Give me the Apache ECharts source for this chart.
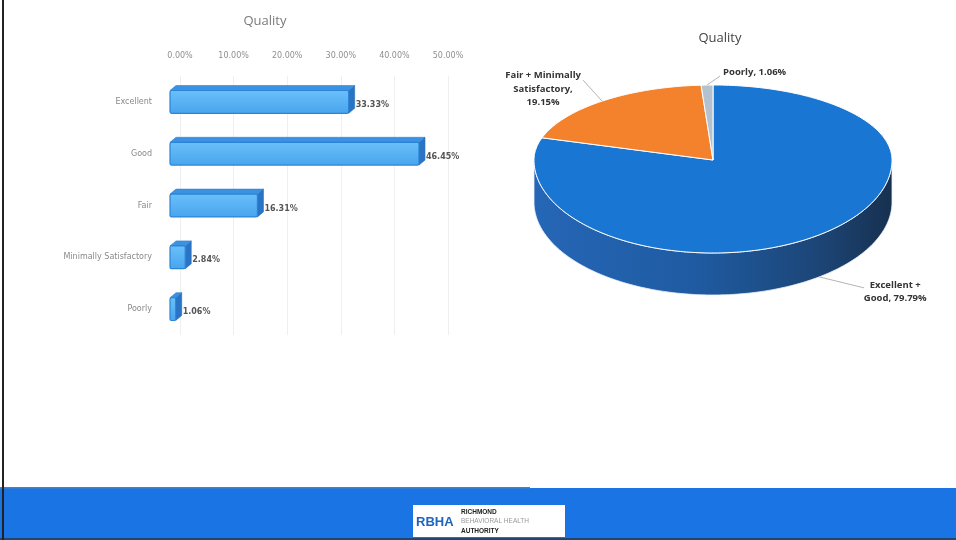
<!DOCTYPE html>
<html>
<head>
<meta charset="utf-8">
<script src="https://cdn.jsdelivr.net/npm/echarts@6/dist/echarts.min.js"></script>
<style>html,body{margin:0;padding:0;background:#fff}#c{width:956px;height:540px}</style>
</head>
<body>
<div id="c"></div>
<script>
// ---- data ----
const barCategories = ['Excellent', 'Good', 'Fair', 'Minimally Satisfactory', 'Poorly'];
const barValues = [33.33, 46.45, 16.31, 2.84, 1.06];
const xTicks = [0, 10, 20, 30, 40, 50];
const pieCategories = ['Excellent + Good', 'Fair + Minimally Satisfactory', 'Poorly'];
const pieValues = [79.79, 19.15, 1.06];
const pieLabelTexts = ['Excellent +\nGood, 79.79%', 'Fair + Minimally\nSatisfactory,\n19.15%', 'Poorly, 1.06%'];

// ---- layout / style ----
const PIE = {cx: 713, cy: 160, rx: 179, ryT: 75, ryB: 93, depth: 42};
const pieColors = ['#1a76d3', '#f4812b', '#b4c2d0'];
const pieLabelLayout = [
  {line: [45, 11], text: [31, 4], align: 'center'},
  {line: [-19, -21], text: [-40, 9], align: 'center'},
  {line: [13, -9], text: [3, -4], align: 'left'}
];
const BAR3D = {shift: -10, dx: 6, dy: -5, ratio: 0.44};

const total = pieValues.reduce((a, b) => a + b, 0);
const cum = [0];
pieValues.forEach((v, i) => cum.push(cum[i] + v));

function P(th, drop) {
  const r = th * Math.PI / 180;
  const s = Math.sin(r);
  return [PIE.cx + PIE.rx * Math.cos(r), PIE.cy - (s > 0 ? PIE.ryT : PIE.ryB) * s + (drop || 0)];
}

const chart = echarts.init(document.getElementById('c'), null, {renderer: 'canvas'});

const option = {
  backgroundColor: '#fff',
  animation: false,
  title: [
    {text: 'Quality', left: 260, top: 10, textAlign: 'center',
     textStyle: {fontFamily: 'Open Sans', fontSize: 13, fontWeight: 'normal', color: '#7a7a7a'}},
    {text: 'Quality', left: 715, top: 27, textAlign: 'center',
     textStyle: {fontFamily: 'Open Sans', fontSize: 13, fontWeight: 'normal', color: '#444'}}
  ],
  grid: {left: 180, right: 508, top: 76, bottom: 205},
  xAxis: {
    type: 'value', position: 'top', min: 0, max: 50, interval: 10,
    axisLine: {show: false}, axisTick: {show: false},
    splitLine: {lineStyle: {color: '#efefef'}},
    axisLabel: {fontFamily: 'DejaVu Sans', fontSize: 8, color: '#8f8f8f', margin: 16,
      formatter: v => xTicks.indexOf(v) >= 0 ? v.toFixed(2) + '%' : ''}
  },
  yAxis: {
    type: 'category', inverse: true, data: barCategories,
    axisLine: {show: false}, axisTick: {show: false},
    axisLabel: {fontFamily: 'DejaVu Sans', fontSize: 8, color: '#8a8a8a', margin: 28}
  },
  series: [
    {
      type: 'custom', coordinateSystem: 'cartesian2d',
      data: barValues.map((v, i) => [v, i]),
      encode: {x: 0, y: 1},
      renderItem: function (params, api) {
        const v = api.value(0), ci = api.value(1);
        const end = api.coord([v, ci]);
        const start = api.coord([0, ci]);
        const band = api.size([0, 1])[1];
        const h = band * BAR3D.ratio;
        const xL = start[0] + BAR3D.shift, xR = end[0] + BAR3D.shift;
        const yT = end[1] - h / 2, yB = end[1] + h / 2;
        const dx = BAR3D.dx, dy = BAR3D.dy;
        return {
          type: 'group',
          children: [
            {type: 'polygon', shape: {points: [[xR, yT], [xR + dx, yT + dy], [xR + dx, yB + dy], [xR, yB]]},
             style: {fill: '#2a74c6', stroke: '#2266b4', lineWidth: 0.6}},
            {type: 'polygon', shape: {points: [[xL, yT], [xL + dx, yT + dy], [xR + dx, yT + dy], [xR, yT]]},
             style: {fill: '#3c92e2', stroke: '#2f80d0', lineWidth: 0.6}},
            {type: 'rect', shape: {x: xL, y: yT, width: xR - xL, height: h, r: 1.5},
             style: {fill: new echarts.graphic.LinearGradient(0, 0, 0, 1, [
               {offset: 0, color: '#6cc0f8'}, {offset: 0.5, color: '#58b2f4'}, {offset: 1, color: '#4aa4ec'}]),
               stroke: '#2c84d6', lineWidth: 1.2}},
            {type: 'text', x: xR + dx + 1, y: end[1] + 3,
             style: {text: v.toFixed(2) + '%', fontFamily: 'DejaVu Sans', fontSize: 8, fontWeight: 'bold',
               fill: '#555', align: 'left', verticalAlign: 'middle'}}
          ]
        };
      }
    },
    {
      type: 'custom', coordinateSystem: 'none',
      data: pieValues.map((v, i) => ({name: pieCategories[i], value: [v]})),
      renderItem: function (params, api) {
        const i = params.dataIndex;
        const ths = 90 - 360 * cum[i] / total;
        const the = 90 - 360 * cum[i + 1] / total;
        const children = [];
        const pts = [[PIE.cx, PIE.cy]];
        const n = Math.max(2, Math.ceil(ths - the));
        for (let k = 0; k <= n; k++) pts.push(P(ths + (the - ths) * k / n));
        children.push({type: 'polygon', z2: 2, shape: {points: pts},
          style: {fill: pieColors[i], stroke: '#ffffff', lineWidth: 1}});
        for (let m = -1; m <= 1; m++) {
          const lo = Math.max(the, -180 + 360 * m), hi = Math.min(ths, 360 * m);
          if (hi > lo) {
            const top = [], bot = [];
            const nn = Math.ceil(hi - lo);
            for (let k = 0; k <= nn; k++) {
              const t = hi + (lo - hi) * k / nn;
              top.push(P(t));
              bot.unshift(P(t, PIE.depth));
            }
            children.push({type: 'polygon', z2: 1, shape: {points: top.concat(bot)},
              style: {fill: new echarts.graphic.LinearGradient(0, 0, 1, 0, [
                {offset: 0, color: '#2566b6'}, {offset: 0.45, color: '#1f5ba2'},
                {offset: 0.8, color: '#1c4576'}, {offset: 1, color: '#17304f'}]),
                stroke: '#e8f0fa', lineWidth: 0.8}});
          }
        }
        const mid = (ths + the) / 2;
        const lower = Math.sin(mid * Math.PI / 180) < 0;
        const a = P(mid, lower ? PIE.depth : 0);
        const L = pieLabelLayout[i];
        const b = [a[0] + L.line[0], a[1] + L.line[1]];
        children.push({type: 'polyline', z2: 3, shape: {points: [a, b]},
          style: {stroke: '#b5b5b5', lineWidth: 1, fill: null}});
        children.push({type: 'text', z2: 3, x: b[0] + L.text[0], y: b[1] + L.text[1],
          style: {text: pieLabelTexts[i], fontFamily: 'Open Sans', fontSize: 9.5, fontWeight: 'bold',
            fill: '#333', align: L.align, verticalAlign: 'middle', lineHeight: 13.5}});
        return {type: 'group', children: children};
      }
    }
  ],
  graphic: [
    {type: 'rect', shape: {x: 0, y: 488, width: 956, height: 52}, style: {fill: '#1b74e4'}, z: 10},
    {type: 'rect', shape: {x: 0, y: 487, width: 530, height: 1.5}, style: {fill: '#4a7fc0'}, z: 10},
    {type: 'rect', shape: {x: 0, y: 538, width: 956, height: 2}, style: {fill: '#23466e'}, z: 10},
    {type: 'rect', shape: {x: 2, y: 0, width: 2, height: 540}, style: {fill: '#222'}, z: 13},
    {type: 'rect', shape: {x: 413, y: 505, width: 152, height: 32}, style: {fill: '#fff'}, z: 11},
    {type: 'text', x: 416, y: 522, z: 12,
     style: {text: 'RBHA', fontFamily: 'Liberation Sans', fontSize: 13, fontWeight: 'bold', fill: '#1d64c0', verticalAlign: 'middle'}},
    {type: 'text', x: 461, y: 512, z: 12,
     style: {text: 'RICHMOND', fontFamily: 'Liberation Sans', fontSize: 6.5, fontWeight: 'bold', fill: '#222', verticalAlign: 'middle'}},
    {type: 'text', x: 461, y: 521, z: 12,
     style: {text: 'BEHAVIORAL HEALTH', fontFamily: 'Liberation Sans', fontSize: 6.5, fill: '#9a9a9a', verticalAlign: 'middle'}},
    {type: 'text', x: 461, y: 531, z: 12,
     style: {text: 'AUTHORITY', fontFamily: 'Liberation Sans', fontSize: 6.5, fontWeight: 'bold', fill: '#222', verticalAlign: 'middle'}}
  ]
};
chart.setOption(option);
</script>
</body>
</html>
